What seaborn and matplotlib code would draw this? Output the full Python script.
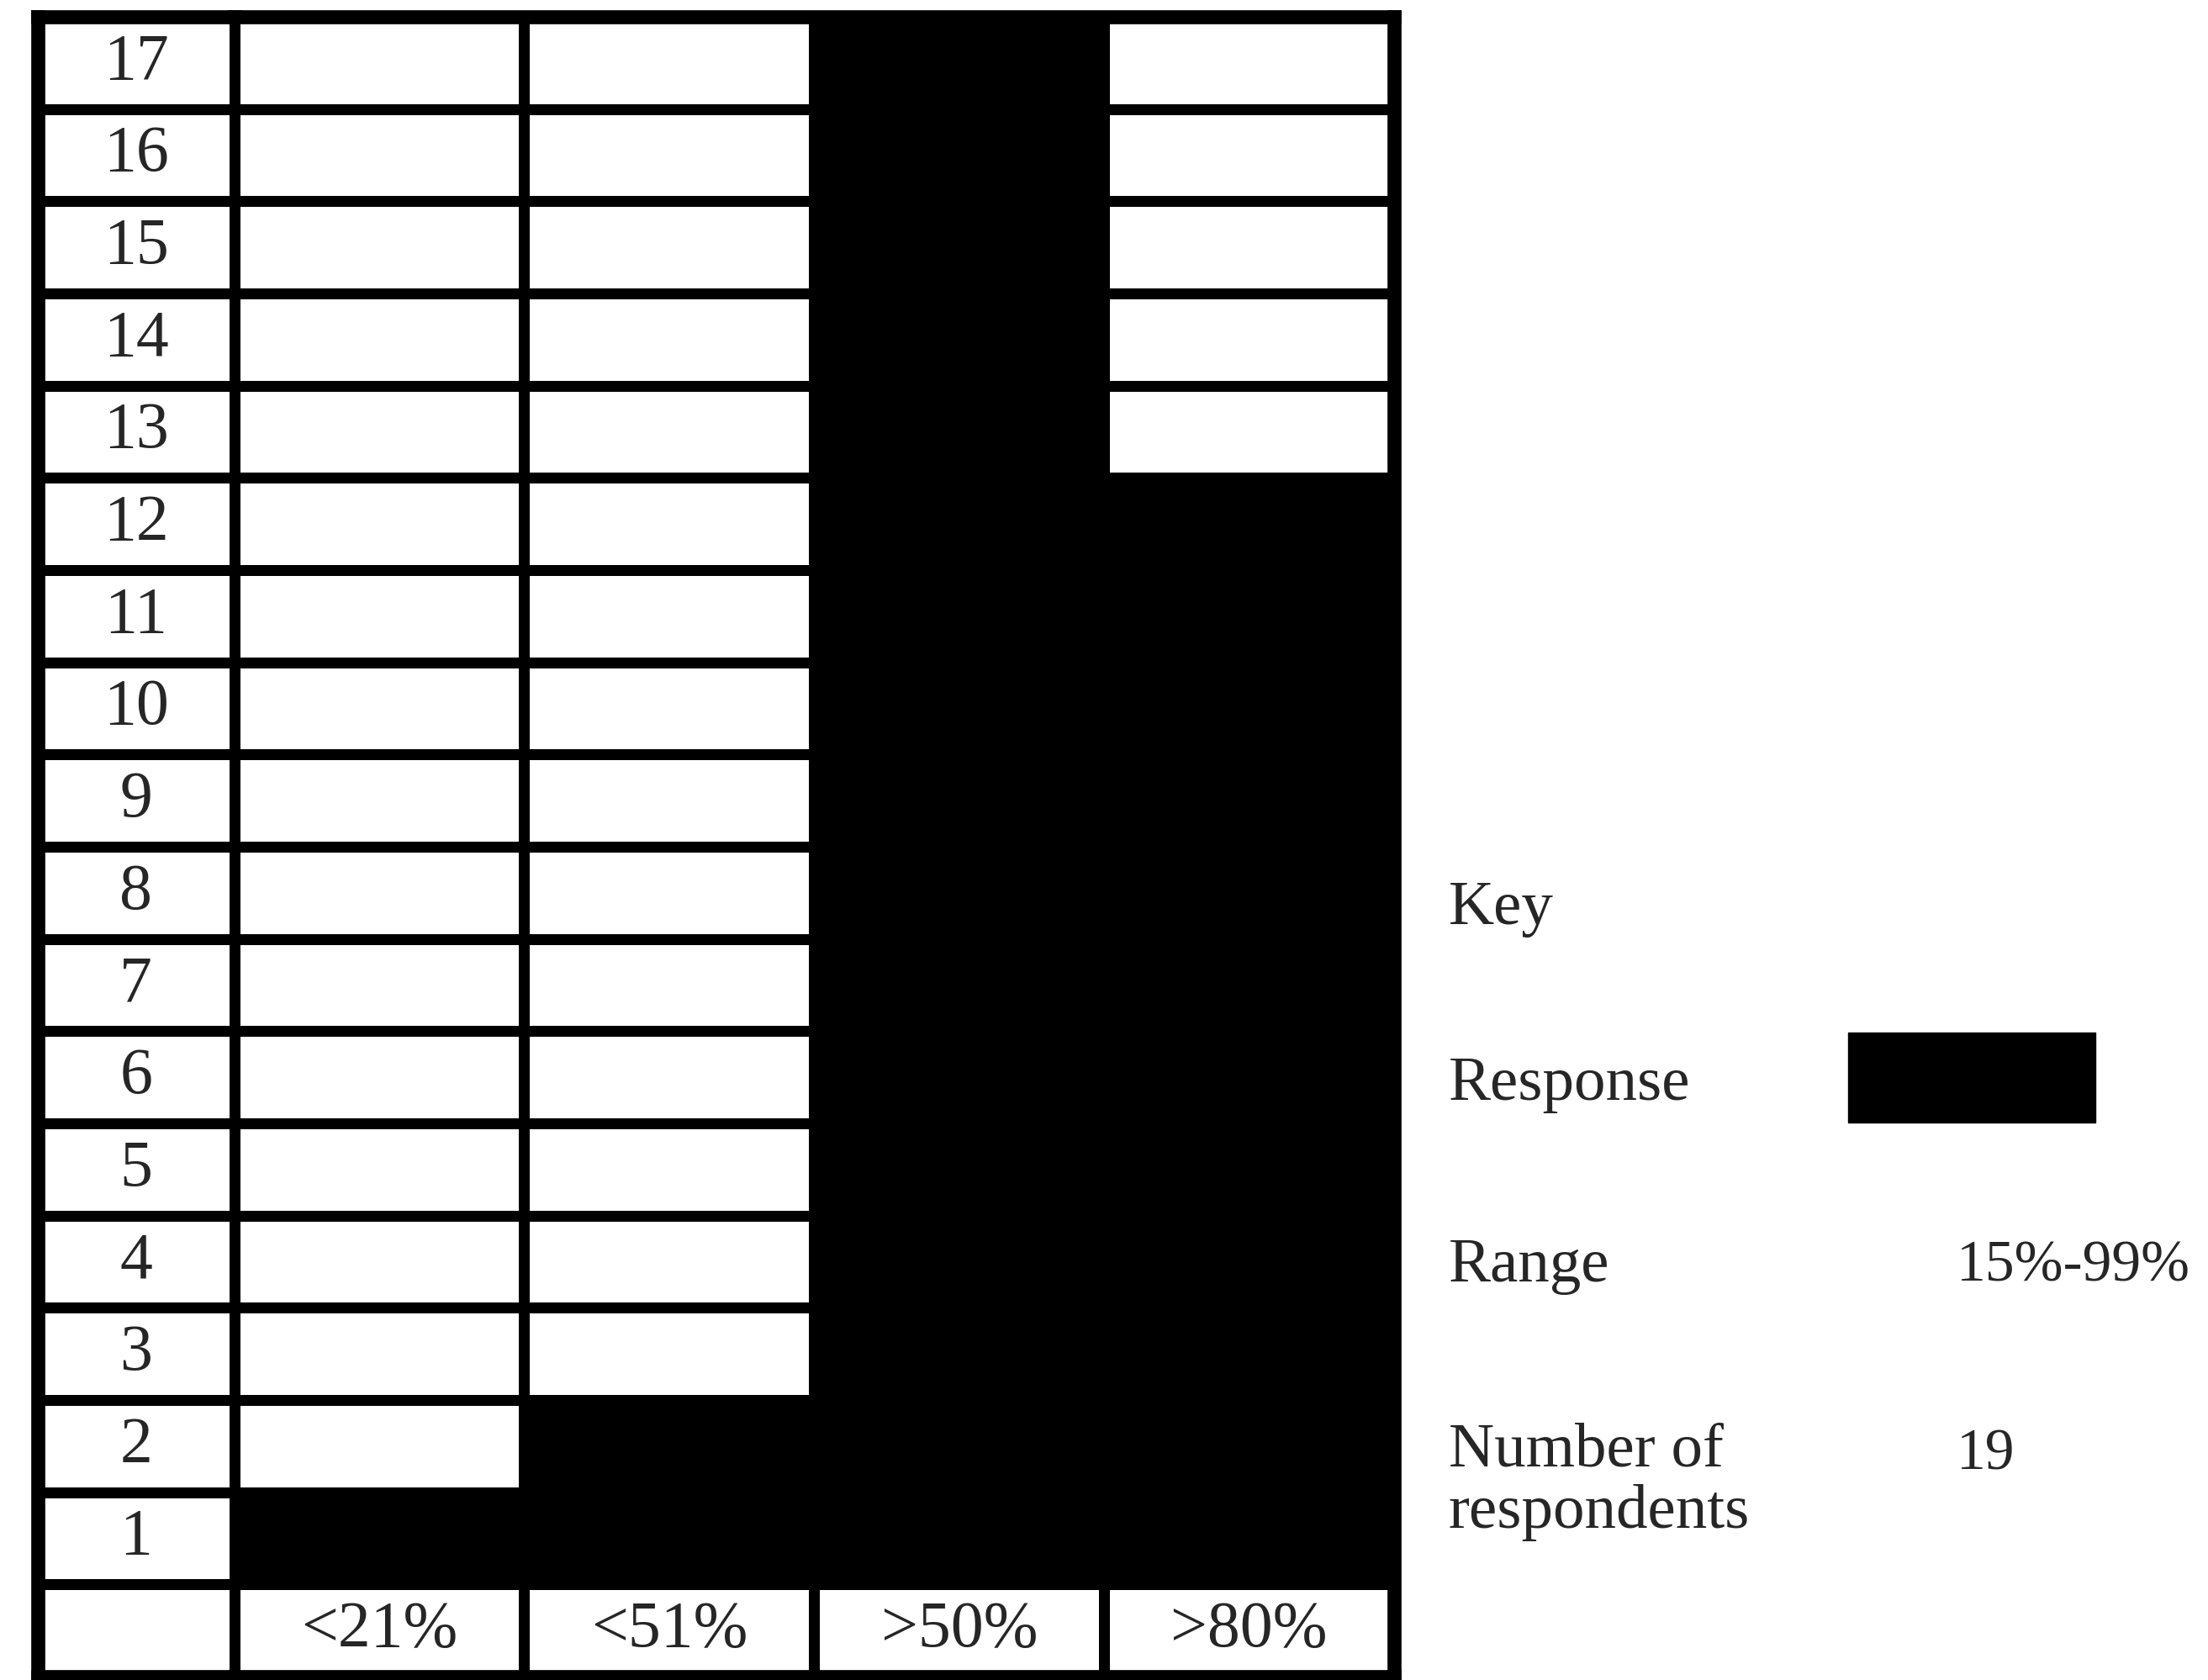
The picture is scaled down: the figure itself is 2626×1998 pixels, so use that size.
import matplotlib
matplotlib.use("Agg")
import matplotlib.pyplot as plt
import seaborn as sns
import pandas as pd
from matplotlib.colors import ListedColormap
from matplotlib.patches import Rectangle

# data
row_numbers = list(range(17, 0, -1))
bands = ["<21%", "<51%", ">50%", ">80%"]
band_counts = [1, 2, 17, 12]

key_title = "Key"
key_labels = ["Response", "Range", "Number of\nrespondents"]
range_text = "15%-99%"
n_respondents = "19"

sns.set_theme(style="white")
plt.rcParams["font.family"] = ["Liberation Serif", "DejaVu Serif"]

# filled cell = row number within band count
cells = [[1 if r <= c else 0 for c in band_counts] for r in row_numbers] + [[0] * len(bands)]
grid = pd.DataFrame(cells, columns=bands, index=[str(r) for r in row_numbers] + [""])
grid_annot = [[""] * len(bands) for _ in row_numbers] + [bands]

labels = pd.DataFrame({"n": [0] * (len(row_numbers) + 1)}, index=grid.index)
label_annot = [[str(r)] for r in row_numbers] + [[""]]

cmap = ListedColormap(["white", "black"])
fig = plt.figure(figsize=(26.26, 19.98), dpi=100)
ax_lab = fig.add_axes([0.0171, 0.002, 0.0890, 0.988])
ax_grid = fig.add_axes([0.1061, 0.002, 0.5253, 0.988])

text_kw = {"fontsize": 56, "family": "Liberation Serif"}
sns.heatmap(labels, ax=ax_lab, cmap=cmap, vmin=0, vmax=1, cbar=False,
            annot=label_annot, fmt="", annot_kws=text_kw,
            linewidths=9, linecolor="black", xticklabels=False, yticklabels=False)
sns.heatmap(grid, ax=ax_grid, cmap=cmap, vmin=0, vmax=1, cbar=False,
            annot=grid_annot, fmt="", annot_kws=text_kw,
            linewidths=9, linecolor="black", xticklabels=False, yticklabels=False)

for ax in (ax_lab, ax_grid):
    for side, sp in ax.spines.items():
        sp.set_visible(True)
        sp.set_color("black")
        sp.set_linewidth(12)
ax_lab.spines["right"].set_linewidth(6)
ax_grid.spines["left"].set_linewidth(6)

# key on the right
kx, vx = 0.656, 0.886
fig.text(kx, 0.459, key_title, fontsize=54, va="center", ha="left")
ys = [0.354, 0.246, 0.118]
for y, lab in zip(ys, key_labels):
    fig.text(kx, y, lab, fontsize=54, va="center", ha="left", linespacing=1.1)
fig.patches.append(Rectangle((0.837, 0.332), 0.112, 0.0536, transform=fig.transFigure,
                             facecolor="black", edgecolor="black"))
fig.text(vx, 0.246, range_text, fontsize=50, va="center", ha="left")
fig.text(vx, 0.134, n_respondents, fontsize=50, va="center", ha="left")

plt.savefig("out.png", dpi=100)
plt.close()
